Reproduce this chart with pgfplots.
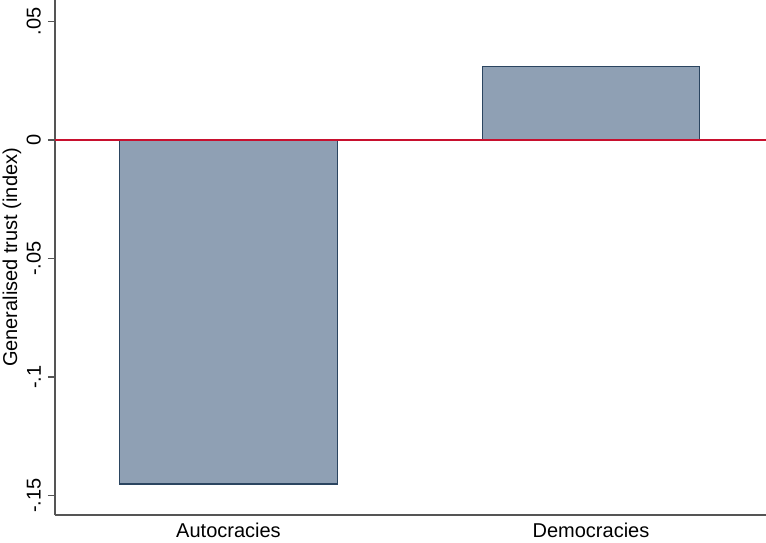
\documentclass[border=0pt]{standalone}
\usepackage{fontspec}
\setmainfont{Liberation Sans}
\usepackage{pgfplots}
\pgfplotsset{compat=1.18}
\definecolor{barfill}{HTML}{8FA0B4}
\definecolor{baredge}{HTML}{2B4560}
\definecolor{zeroline}{HTML}{C8102E}
\definecolor{axgray}{HTML}{555555}

\begin{document}
\begin{tikzpicture}
\begin{axis}[
    at={(0,0)}, anchor=south west,
    scale only axis,
    width=355.5pt, height=257.5pt,
    xmin=-0.4786, xmax=1.4828,
    ymin=-0.1582, ymax=0.0591,
    axis x line*=bottom, axis y line*=left,
    axis line style={axgray, line width=0.8pt},
    xtick={0,1}, xticklabels={Autocracies, Democracies},
    x tick style={draw=none},
    xticklabel style={inner sep=0pt, yshift=-0.3pt},
    ytick={-0.15,-0.1,-0.05,0,0.05},
    yticklabels={-.15,-.1,-.05,0,.05},
    y tick style={axgray, line width=0.6pt},
    tick align=outside, major tick length=3.5pt,
    yticklabel style={rotate=90, anchor=south},
    every axis y label/.style={at={([xshift=-21.5pt]axis description cs:0,0.5)}, rotate=90, anchor=center},
    ylabel={Generalised trust (index)},
    tick label style={font=\fontsize{10}{12}\selectfont},
    label style={font=\fontsize{10}{12}\selectfont},
    ybar, bar width=0.6,
    clip=false,
]
\addplot[fill=barfill, draw=baredge, line width=0.6pt] coordinates {(0,-0.1451) (1,0.0312)};
\draw[zeroline, line width=0.7pt] (axis cs:-0.4786,0) -- (axis cs:1.4828,0);
\end{axis}
\pgfresetboundingbox
\path[use as bounding box] (-27.5pt,-13.5pt) rectangle (355.5pt,257.5pt);
\end{tikzpicture}
\end{document}
